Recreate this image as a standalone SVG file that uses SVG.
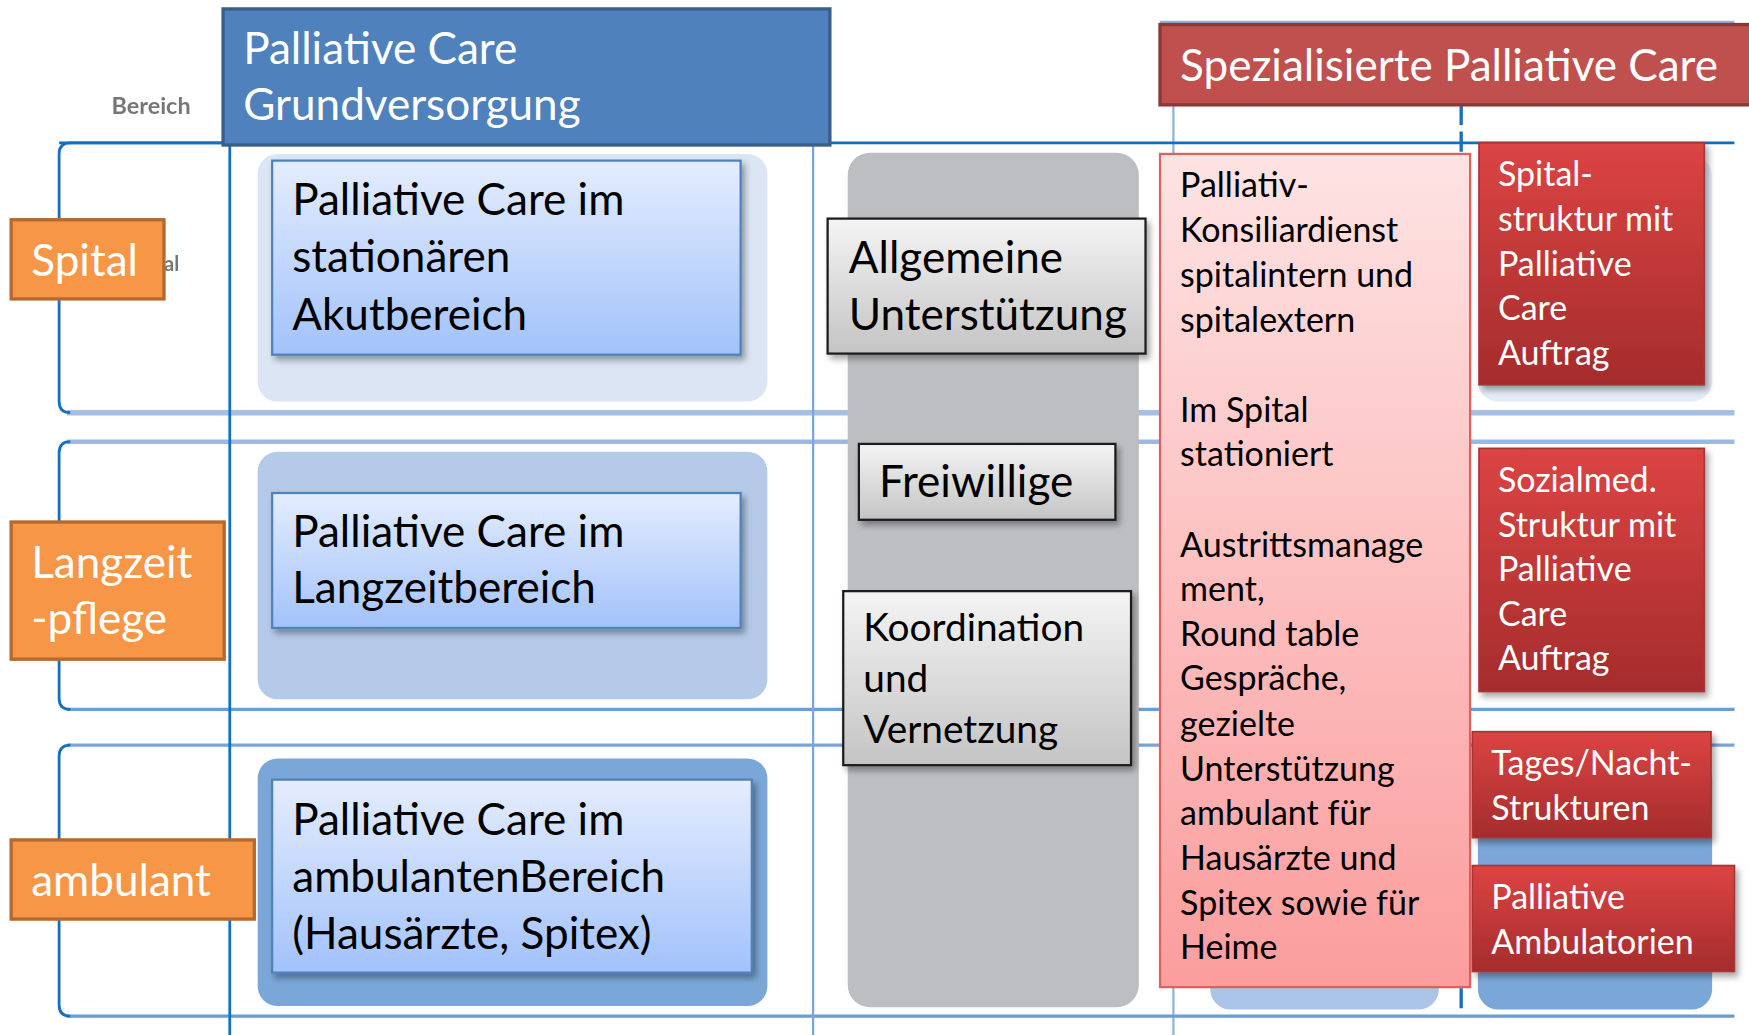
<svg xmlns="http://www.w3.org/2000/svg" width="1749" height="1035" viewBox="0 0 1749 1035">
<defs>
  <linearGradient id="gBlue" x1="0" y1="0" x2="0" y2="1"><stop offset="0" stop-color="#e4edfd"/><stop offset="1" stop-color="#a2c2fb"/></linearGradient>
  <linearGradient id="gGray" x1="0" y1="0" x2="0" y2="1"><stop offset="0" stop-color="#f4f4f4"/><stop offset="1" stop-color="#c4c4c4"/></linearGradient>
  <linearGradient id="gPink" x1="0" y1="0" x2="0" y2="1"><stop offset="0" stop-color="#fee3e3"/><stop offset="1" stop-color="#fb9d9d"/></linearGradient>
  <linearGradient id="gRed" x1="0" y1="0" x2="0" y2="1"><stop offset="0" stop-color="#dc4443"/><stop offset="1" stop-color="#a52c2c"/></linearGradient>
  <filter id="sh" x="-10%" y="-10%" width="130%" height="130%"><feDropShadow dx="3" dy="4" stdDeviation="3" flood-color="#000" flood-opacity="0.35"/></filter>
</defs>
<style>
  .t{font-family:Lato,"Open Sans","Liberation Sans",sans-serif}
  .big{font-size:39.5px}
  .ko{font-size:34.8px}
  .mid{font-size:30.5px}
  .w{fill:#fff}
  .k{fill:#000}
  .ln{fill:none}
  .lab{fill:#f79646;stroke:#b5692f;stroke-width:3}
  .bb{fill:url(#gBlue);stroke:#4f81bd;stroke-width:2;filter:url(#sh)}
  .gb{fill:url(#gGray);stroke:#1a1a1a;stroke-width:2;filter:url(#sh)}
  .rb{fill:url(#gRed);stroke:#a83434;stroke-width:1.5;filter:url(#sh)}
</style>
<rect width="1749" height="1035" fill="#fff"/>
<g transform="scale(1.1154)">
  <g id="grid">
    <path class="ln" d="M1040,20 H1555" stroke="#8fb2dd" stroke-width="3"/>
    <path class="ln" d="M1052,20 V928" stroke="#8fb2dd" stroke-width="2"/>
    <path class="ln" d="M1310,94 V910" stroke="#1670c0" stroke-width="3" stroke-dasharray="18 6"/>
    <path class="ln" d="M53,128 H1555" stroke="#0d6fc0" stroke-width="2.5"/>
    <path class="ln" d="M60,370 H1555" stroke="#a5c0e2" stroke-width="5"/>
    <path class="ln" d="M60,396 H1555" stroke="#9cbae1" stroke-width="4"/>
    <path class="ln" d="M60,636 H1555" stroke="#6a9dd5" stroke-width="3"/>
    <path class="ln" d="M60,668 H1555" stroke="#78a4da" stroke-width="3"/>
    <path class="ln" d="M60,911 H1555" stroke="#6a9dd5" stroke-width="3"/>
    <path class="ln" d="M200,128 H63 Q53,128 53,138 V360 Q53,370 63,370" stroke="#1670c0" stroke-width="2.5"/>
    <path class="ln" d="M63,396 Q53,396 53,406 V626 Q53,636 63,636" stroke="#1670c0" stroke-width="2.5"/>
    <path class="ln" d="M63,668 Q53,668 53,678 V901 Q53,911 63,911" stroke="#1670c0" stroke-width="2.5"/>
    <path class="ln" d="M206,130 V928" stroke="#1670c0" stroke-width="2.5"/>
    <path class="ln" d="M729,130 V928" stroke="#7aa6da" stroke-width="2"/>
  </g>
  <g id="backgrounds">
    <rect x="231" y="138" width="457" height="222" rx="18" fill="#dbe5f3"/>
    <rect x="231" y="405" width="457" height="222" rx="18" fill="#b4cae8"/>
    <rect x="231" y="680" width="457" height="222" rx="18" fill="#7ba7d8"/>
    <rect x="760" y="137" width="261" height="766" rx="20" fill="#bcbec2"/>
    <rect x="1085" y="700" width="205" height="205" rx="18" fill="#aac5e8"/>
    <rect x="1325" y="140" width="210" height="220" rx="18" fill="#e4ecf7"/>
    <rect x="1325" y="680" width="210" height="225" rx="18" fill="#7ba7d8"/>
  </g>
  <text class="t" x="100" y="102" font-size="21" font-weight="bold" fill="#555" opacity="0.8">Bereich</text>
  <text class="t" x="147" y="243" font-size="18" font-weight="bold" fill="#555" opacity="0.8">al</text>
  <g id="label-spital">
    <rect class="lab" x="10" y="197" width="137" height="71"/>
    <text class="t big w" x="28" y="247">Spital</text>
  </g>
  <g id="label-langzeit">
    <rect class="lab" x="10" y="468" width="191" height="123"/>
    <text class="t big w" x="28" y="518">Langzeit<tspan x="28" y="568">-pflege</tspan></text>
  </g>
  <g id="label-ambulant">
    <rect class="lab" x="10" y="753" width="218" height="71"/>
    <text class="t big w" x="28" y="803">ambulant</text>
  </g>
  <g id="header-grund">
    <rect x="200" y="8" width="544" height="122" fill="#4f81bd" stroke="#3a5e8c" stroke-width="3"/>
    <text class="t big w" x="218" y="57">Palliative Care<tspan x="218" y="108">Grundversorgung</tspan></text>
  </g>
  <g id="header-spez">
    <rect x="1040" y="22" width="535" height="72" fill="#c0504d" stroke="#8c3836" stroke-width="3"/>
    <text class="t big w" x="1058" y="73">Spezialisierte Palliative Care</text>
  </g>
  <g id="pc-akut">
    <rect class="bb" x="244" y="144" width="420" height="174"/>
    <text class="t big k" x="262" y="193">Palliative Care im<tspan x="262" y="244">stationären</tspan><tspan x="262" y="296">Akutbereich</tspan></text>
  </g>
  <g id="pc-langzeit">
    <rect class="bb" x="244" y="442" width="420" height="121"/>
    <text class="t big k" x="262" y="490">Palliative Care im<tspan x="262" y="541">Langzeitbereich</tspan></text>
  </g>
  <g id="pc-ambulant">
    <rect class="bb" x="244" y="699" width="430" height="173"/>
    <text class="t big k" x="262" y="749">Palliative Care im<tspan x="262" y="800">ambulantenBereich</tspan><tspan x="262" y="851">(Hausärzte, Spitex)</tspan></text>
  </g>
  <g id="allgemeine">
    <rect class="gb" x="742" y="196" width="285" height="121"/>
    <text class="t big k" x="761" y="245">Allgemeine<tspan x="761" y="296">Unterstützung</tspan></text>
  </g>
  <g id="freiwillige">
    <rect class="gb" x="770" y="398" width="230" height="68"/>
    <text class="t big k" x="788" y="446">Freiwillige</text>
  </g>
  <g id="koordination">
    <rect class="gb" x="756" y="530" width="258" height="156"/>
    <text class="t ko k" x="774" y="575">Koordination<tspan x="774" y="620">und</tspan><tspan x="774" y="666">Vernetzung</tspan></text>
  </g>
  <g id="konsiliardienst">
    <rect x="1040" y="138" width="278" height="747" fill="url(#gPink)" stroke="#e0605d" stroke-width="2"/>
    <text class="t mid k" x="1058" y="177">Palliativ-<tspan x="1058" y="217">Konsiliardienst</tspan><tspan x="1058" y="257">spitalintern und</tspan><tspan x="1058" y="298">spitalextern</tspan><tspan x="1058" y="378">Im Spital</tspan><tspan x="1058" y="418">stationiert</tspan><tspan x="1058" y="499">Austrittsmanage</tspan><tspan x="1058" y="539">ment,</tspan><tspan x="1058" y="579">Round table</tspan><tspan x="1058" y="619">Gespräche,</tspan><tspan x="1058" y="660">gezielte</tspan><tspan x="1058" y="700">Unterstützung</tspan><tspan x="1058" y="740">ambulant für</tspan><tspan x="1058" y="780">Hausärzte und</tspan><tspan x="1058" y="820">Spitex sowie für</tspan><tspan x="1058" y="860">Heime</tspan></text>
  </g>
  <g id="spitalstruktur">
    <rect class="rb" x="1326" y="128" width="202" height="217"/>
    <text class="t mid w" x="1343" y="167">Spital-<tspan x="1343" y="207">struktur mit</tspan><tspan x="1343" y="247">Palliative</tspan><tspan x="1343" y="287">Care</tspan><tspan x="1343" y="327">Auftrag</tspan></text>
  </g>
  <g id="sozialmed">
    <rect class="rb" x="1326" y="402" width="202" height="218"/>
    <text class="t mid w" x="1343" y="441">Sozialmed.<tspan x="1343" y="481">Struktur mit</tspan><tspan x="1343" y="521">Palliative</tspan><tspan x="1343" y="561">Care</tspan><tspan x="1343" y="601">Auftrag</tspan></text>
  </g>
  <g id="tagesnacht">
    <rect class="rb" x="1320" y="656" width="214" height="95"/>
    <text class="t mid w" x="1337" y="695">Tages/Nacht-<tspan x="1337" y="735">Strukturen</tspan></text>
  </g>
  <g id="ambulatorien">
    <rect class="rb" x="1320" y="776" width="235" height="95"/>
    <text class="t mid w" x="1337" y="815">Palliative<tspan x="1337" y="855">Ambulatorien</tspan></text>
  </g>
</g>
</svg>
